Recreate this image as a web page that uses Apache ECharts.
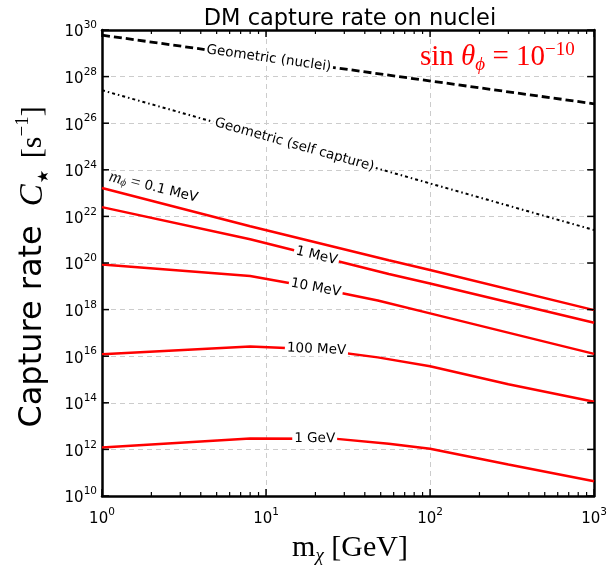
<!DOCTYPE html>
<html><head><meta charset="utf-8">
<script src="https://cdn.jsdelivr.net/npm/echarts@6/dist/echarts.min.js"></script>
<style>html,body{margin:0;padding:0;background:#fff}#c{width:610px;height:568px}</style>
</head><body><div id="c"></div>
<script>
// ---- data ----
const geoNuclei = [[1, 6.0e29], [1000, 6.8e26]];
const geoSelf = [[1, 2.6e27], [1000, 2.6e21]];
const mphi01MeV = [[1, 1.66e23], [8, 3.8e21], [56, 1.32e20], [100, 5.0e19], [1000, 9.5e17]];
const mphi1MeV = [[1, 2.5e22], [8, 1.05e21], [56, 3.4e19], [100, 1.32e19], [1000, 2.75e17]];
const mphi10MeV = [[1, 8.7e19], [8, 2.75e19], [20, 8.7e18], [48, 2.45e18], [100, 6.9e17], [1000, 1.26e16]];
const mphi100MeV = [[1, 1.2e16], [8, 2.6e16], [20, 2.0e16], [48, 8.9e15], [100, 3.7e15], [300, 6.3e14], [1000, 1.12e14]];
const mphi1GeV = [[1, 1.2e12], [8, 2.95e12], [26, 2.9e12], [56, 1.74e12], [100, 1.07e12], [300, 2.24e11], [1000, 4.3e10]];
// ticks
const xMajorTicks = [1, 10, 100, 1000];
const xMinorTicks = [2, 3, 4, 5, 6, 7, 8, 9, 20, 30, 40, 50, 60, 70, 80, 90, 200, 300, 400, 500, 600, 700, 800, 900];
const yMajorTicks = [1e10, 1e12, 1e14, 1e16, 1e18, 1e20, 1e22, 1e24, 1e26, 1e28, 1e30];
const titleText = 'DM capture rate on nuclei';
const lineLabels = [
  { series: geoNuclei, x: 10.4, text: '{s|Geometric (nuclei)}', rotate: -8, bg: true },
  { series: geoSelf, x: 14.9, text: '{s|Geometric (self capture)}', rotate: -15.8, bg: true },
  { series: mphi01MeV, x: 2.0, text: '{m|m}{sub|ϕ}{eq| = }{s|0.1 MeV}', rotate: -14, bg: false, above: true },
  { series: mphi1MeV, x: 20.3, text: '{s|1 MeV}', rotate: -13.5, bg: true },
  { series: mphi10MeV, x: 20.1, text: '{s|10 MeV}', rotate: -10.5, bg: true },
  { series: mphi100MeV, x: 20.3, text: '{s|100 MeV}', rotate: -2.5, bg: true },
  { series: mphi1GeV, x: 19.8, text: '{s|1 GeV}', rotate: -0.5, bg: true }
];

function interpLog(arr, x) {
  const lx = Math.log10(x);
  for (let i = 0; i < arr.length - 1; i++) {
    const a = Math.log10(arr[i][0]), b = Math.log10(arr[i + 1][0]);
    if (lx >= a && lx <= b) {
      const t = (lx - a) / (b - a);
      return Math.pow(10, Math.log10(arr[i][1]) * (1 - t) + Math.log10(arr[i + 1][1]) * t);
    }
  }
  return arr[arr.length - 1][1];
}

const supFmt = v => '{b|10}{s|' + Math.round(v) + '}';
const tickRich = {
  b: { fontFamily: 'DejaVu Sans', fontSize: 15, lineHeight: 20, verticalAlign: 'bottom', color: '#000' },
  s: { fontFamily: 'DejaVu Sans', fontSize: 10.5, lineHeight: 8, verticalAlign: 'top', color: '#000' }
};
const labelRich = {
  s: { fontFamily: 'DejaVu Sans', fontSize: 13.5, color: '#000', textBorderWidth: 0 },
  m: { fontFamily: 'Liberation Serif', fontStyle: 'italic', fontSize: 17, color: '#111', textBorderWidth: 0 },
  sub: { fontFamily: 'Liberation Serif', fontStyle: 'italic', fontSize: 11, color: '#111', verticalAlign: 'bottom', lineHeight: 8, textBorderWidth: 0 },
  eq: { fontFamily: 'Liberation Serif', fontSize: 17, color: '#111', textBorderWidth: 0 }
};
const frameLine = { show: true, lineStyle: { color: '#000', width: 2.5 } };
const gridLine = { show: true, lineStyle: { color: '#cccccc', type: [5, 4], width: 1 } };
const decoX = (pos, extra) => Object.assign({ type: 'value', min: 0, max: 3, interval: 1, position: pos,
  axisLine: { show: false }, axisTick: { show: false }, axisLabel: { show: false }, splitLine: { show: false } }, extra);
const decoY = (pos, extra) => Object.assign({ type: 'value', min: 10, max: 30, interval: 2, position: pos,
  axisLine: { show: false }, axisTick: { show: false }, axisLabel: { show: false }, splitLine: { show: false } }, extra);

const chart = echarts.init(document.getElementById('c'));
const redLine = (name, data) => ({
  name, type: 'line', data, showSymbol: false, symbol: 'none', z: 3,
  lineStyle: { color: '#ff0000', width: 2.5 }, itemStyle: { color: '#ff0000' }
});

const labelData = lineLabels.map(l => ({
  value: [l.x, interpLog(l.series, l.x)],
  label: {
    show: true, formatter: l.text, rich: labelRich, color: '#000', opacity: 1, textBorderWidth: 0,
    rotate: l.rotate, position: l.above ? 'top' : 'inside', distance: 5,
    backgroundColor: l.bg ? '#fff' : 'transparent', padding: l.bg ? [0, 2] : 0
  }
}));

const baseGraphic = [
  { id: 'sinTheta', type: 'text', left: 420, top: 41, z: 10,
    style: { text: '{r|sin }{ri|θ}{sub|ϕ}{r| = 10}{sup|−10}',
      rich: {
        r: { fontFamily: 'Liberation Serif', fontSize: 29, lineHeight: 33, verticalAlign: 'middle', fill: '#ff0000' },
        ri: { fontFamily: 'Liberation Serif', fontStyle: 'italic', fontSize: 29, lineHeight: 33, verticalAlign: 'middle', fill: '#ff0000' },
        sub: { fontFamily: 'Liberation Serif', fontStyle: 'italic', fontSize: 19, lineHeight: 14, verticalAlign: 'bottom', fill: '#ff0000' },
        sup: { fontFamily: 'Liberation Serif', fontSize: 19, lineHeight: 24, verticalAlign: 'top', fill: '#ff0000' }
      } } },
  { id: 'xTitle', type: 'text', x: 350, y: 548, z: 10,
    style: { text: '{m|m}{sub|χ}{r| [GeV]}', align: 'center', verticalAlign: 'middle',
      rich: {
        m: { fontFamily: 'Liberation Serif', fontSize: 30, lineHeight: 34, verticalAlign: 'middle', fill: '#000' },
        sub: { fontFamily: 'Liberation Serif', fontStyle: 'italic', fontSize: 19, lineHeight: 12, verticalAlign: 'bottom', fill: '#000' },
        r: { fontFamily: 'Liberation Serif', fontSize: 30, lineHeight: 34, verticalAlign: 'middle', fill: '#000' }
      } } },
  { id: 'yTitle', type: 'text', x: 33, y: 267, rotation: Math.PI / 2, z: 10,
    style: { text: '{a|Capture rate}{g|}{c|C}{st|★}{b| [s}{sp|−1}{b|]}', align: 'center', verticalAlign: 'middle',
      rich: {
        a: { fontFamily: 'DejaVu Sans', fontSize: 32, lineHeight: 38, verticalAlign: 'middle', fill: '#000' },
        g: { width: 19, lineHeight: 38 },
        b: { fontFamily: 'Liberation Serif', fontSize: 30, lineHeight: 38, verticalAlign: 'middle', fill: '#000' },
        c: { fontFamily: 'Liberation Serif', fontStyle: 'italic', fontSize: 33, lineHeight: 38, verticalAlign: 'middle', fill: '#000' },
        st: { fontFamily: 'DejaVu Sans', fontSize: 15, lineHeight: 18, verticalAlign: 'bottom', fill: '#000', padding: [0, 4, 0, 1] },
        sp: { fontFamily: 'Liberation Serif', fontSize: 19, lineHeight: 16, verticalAlign: 'top', fill: '#000' }
      } } }
];

chart.setOption({
  animation: false,
  backgroundColor: '#fff',
  title: {
    text: titleText, left: 345, top: 3, textAlign: 'center',
    textStyle: { fontFamily: 'DejaVu Sans', fontSize: 22.5, fontWeight: 'normal', color: '#000' }
  },
  grid: { left: 102, right: 15, top: 30, bottom: 72 },
  xAxis: [
    { type: 'log', logBase: 10, min: 1, max: 1000, show: false },
    decoX('bottom', { axisLine: frameLine,
      axisLabel: { show: true, formatter: supFmt, rich: tickRich, margin: 11 }, splitLine: gridLine }),
    decoX('top', { axisLine: frameLine })
  ],
  yAxis: [
    { type: 'log', logBase: 10, min: 1e10, max: 1e30, show: false },
    decoY('left', { axisLine: frameLine,
      axisLabel: { show: true, formatter: supFmt, rich: tickRich, margin: 5 }, splitLine: gridLine }),
    decoY('right', { axisLine: frameLine })
  ],
  series: [
    { name: 'Geometric (nuclei)', type: 'line', data: geoNuclei, showSymbol: false, symbol: 'none', z: 3,
      lineStyle: { color: '#000', width: 2.8, type: [8, 4] } },
    { name: 'Geometric (self capture)', type: 'line', data: geoSelf, showSymbol: false, symbol: 'none', z: 3,
      lineStyle: { color: '#000', width: 2, type: [3, 3, 1.5, 3] } },
    redLine('0.1 MeV', mphi01MeV),
    redLine('1 MeV', mphi1MeV),
    redLine('10 MeV', mphi10MeV),
    redLine('100 MeV', mphi100MeV),
    redLine('1 GeV', mphi1GeV),
    { name: 'labels', type: 'scatter', data: labelData, symbolSize: 0.1, z: 5, clip: false,
      itemStyle: { color: '#ffffff', opacity: 1 }, emphasis: { disabled: true } }
  ],
  graphic: baseGraphic
});

// tick marks placed through the log axes' own scales (convertToPixel), pointing inward
const finder = { xAxisIndex: 0, yAxisIndex: 0 };
const bl = chart.convertToPixel(finder, [1, 1e10]);
const tr = chart.convertToPixel(finder, [1000, 1e30]);
const tickEls = [];
const seg = (x1, y1, x2, y2, w) => tickEls.push({ type: 'line', z: 20, silent: true,
  shape: { x1, y1, x2, y2 }, style: { stroke: '#000', lineWidth: w } });
xMajorTicks.forEach(v => {
  const px = chart.convertToPixel(finder, [v, 1e20])[0];
  seg(px, bl[1], px, bl[1] - 7, 1.5); seg(px, tr[1], px, tr[1] + 7, 1.5);
});
xMinorTicks.forEach(v => {
  const px = chart.convertToPixel(finder, [v, 1e20])[0];
  seg(px, bl[1], px, bl[1] - 4, 1.2); seg(px, tr[1], px, tr[1] + 4, 1.2);
});
yMajorTicks.forEach(v => {
  const py = chart.convertToPixel(finder, [10, v])[1];
  seg(bl[0], py, bl[0] + 7, py, 1.5); seg(tr[0], py, tr[0] - 7, py, 1.5);
});
chart.setOption({ graphic: baseGraphic.concat(tickEls) });
</script></body></html>
